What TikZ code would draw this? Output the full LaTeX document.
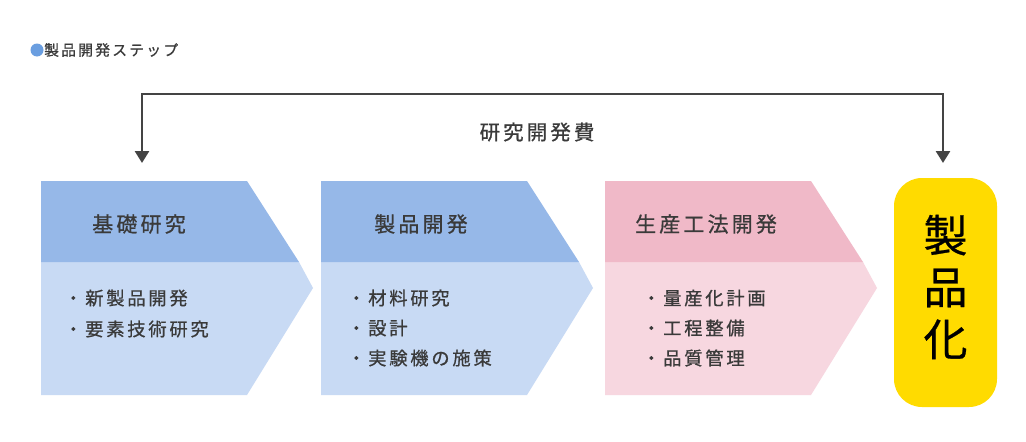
\documentclass[tikz,border=0pt]{standalone}
\usepackage{fontspec}
\usetikzlibrary{arrows.meta}
\newfontfamily\jp[LetterSpace=15,FakeBold=0.8]{Noto Sans CJK JP}
\newfontfamily\jpplain[FakeBold=0.6]{Noto Sans CJK JP}
\definecolor{hdblue}{HTML}{96B8E8}
\definecolor{bdblue}{HTML}{C8DAF4}
\definecolor{hdpink}{HTML}{F0B9C8}
\definecolor{bdpink}{HTML}{F7D7E0}
\definecolor{prodyellow}{HTML}{FFDB00}
\definecolor{txt}{HTML}{3A3A3A}
\definecolor{arr}{HTML}{444444}
\definecolor{dotblue}{HTML}{6A9EE0}
\tikzset{
  hdtext/.style={text=txt, font=\jp\fontsize{21}{24}\selectfont, inner sep=0pt},
  itemtext/.style={text=txt, font=\jp\fontsize{18.3}{21}\selectfont, inner sep=0pt, anchor=west},
  costline/.style={draw=arr, line width=2.7pt, {Triangle[length=12pt,width=14pt]}-{Triangle[length=12pt,width=14pt]}},
}
\begin{document}
\begin{tikzpicture}[x=1pt,y=-1pt]
\useasboundingbox[fill=white] (0,0) rectangle (1026,442);
% title
\fill[dotblue] (37,50) circle (6.5);
\node[anchor=west, inner sep=0pt, text=txt, font=\jp\fontsize{14.8}{17}\selectfont] (title) at (44,50) {製品開発ステップ};
% chevrons
\foreach \dx/\hd/\bd in {0/hdblue/bdblue, 280/hdblue/bdblue, 564/hdpink/bdpink}{
  \fill[\bd] (41+\dx,262) -- (299+\dx,262) -- (313+\dx,288) -- (247+\dx,395) -- (41+\dx,395) -- cycle;
  \fill[\hd] (41+\dx,181) -- (247+\dx,181) -- (299+\dx,262) -- (41+\dx,262) -- cycle;
}
% headers
\node[hdtext] (h1) at (139,224) {基礎研究};
\node[hdtext] (h2) at (421,224) {製品開発};
\node[hdtext] (h3) at (706,224) {生産工法開発};
% items
\node[itemtext] (a1) at (64,298) {・新製品開発};
\node[itemtext] (a2) at (64,329) {・要素技術研究};
\node[itemtext] (b1) at (347,298) {・材料研究};
\node[itemtext] (b2) at (347,328) {・設計};
\node[itemtext] (b3) at (347,358) {・実験機の施策};
\node[itemtext] (c1) at (642,298) {・量産化計画};
\node[itemtext] (c2) at (642,328) {・工程整備};
\node[itemtext] (c3) at (642,358) {・品質管理};
% product box
\node[fill=prodyellow, rounded corners=28pt, minimum width=103pt, minimum height=229pt, inner sep=0pt] (prod) at (945.5,292.5) {};
\node[text=black, font=\jpplain\fontsize{44}{52}\selectfont, align=center, inner sep=0pt] (prodtxt) at (945.5,287) {製\\品\\化};
% cost arrow
\coordinate (cL) at (142,163);
\coordinate (cR) at (943,163);
\coordinate (topline) at (500,94);
\draw[costline] (cL) |- (topline) -| (cR);
\node[text=txt, font=\jp\fontsize{20.5}{23}\selectfont, inner sep=0pt] (cost) at (537,132) {研究開発費};
\end{tikzpicture}
\end{document}
